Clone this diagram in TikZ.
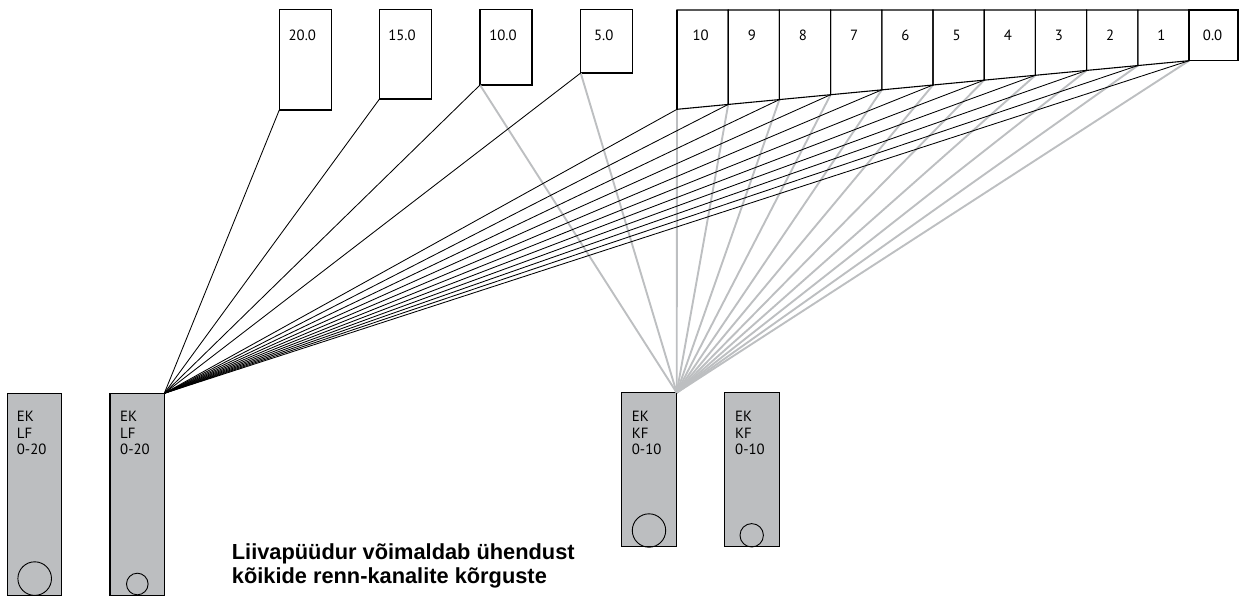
\documentclass[tikz,border=0pt]{standalone}
\usepackage{fontspec}
\setmainfont{PT Sans}
\newfontfamily\capfont{Liberation Sans}
\definecolor{boxgray}{HTML}{BCBEC0}
\definecolor{linegray}{HTML}{BDBFC1}
\begin{document}
\begin{tikzpicture}[x=1pt,y=-1pt,
  box/.style={draw=black, line width=1.1pt, inner sep=0pt, outer sep=0pt, anchor=north west},
  fbox/.style={box, fill=boxgray},
  rowbox/.style={draw=black, line width=1.1pt, line join=miter},
  ring/.style={draw=black, line width=0.9pt, circle, inner sep=0pt, outer sep=0pt},
  lbl/.style={inner sep=0pt, anchor=base, font=\fontsize{14.8}{16.5}\selectfont},
  blbl/.style={inner sep=0pt, anchor=base west, font=\fontsize{14.8}{16.5}\selectfont},
  captext/.style={inner sep=0pt, anchor=base west, font=\capfont\bfseries\fontsize{21.8}{24}\selectfont},
  blk/.style={draw=black, line width=0.85pt},
  gry/.style={draw=linegray, line width=1.9pt},
]
\useasboundingbox (0,0) rectangle (1247,597);

% top single boxes
\node[box, minimum width=52pt, minimum height=100.7pt] (t20) at (279.3,9.3) {};
\node[box, minimum width=52pt, minimum height=89.7pt] (t15) at (379.5,9.3) {};
\node[box, minimum width=52pt, minimum height=75.7pt] (t10) at (480,9.3) {};
\node[box, minimum width=52pt, minimum height=63.7pt] (t5) at (580.7,9.3) {};
\node[lbl] (l20) at (302.3,40) {20.0};
\node[lbl] (l15) at (402,40) {15.0};
\node[lbl] (l10) at (503,40) {10.0};
\node[lbl] (l5) at (603.7,40) {5.0};

% row of boxes with slanted bottom
\foreach \i in {0,...,10} {
  \coordinate (r\i) at ({677+51.2*\i},{109.3-4.86*\i});
  \coordinate (q\i) at ({677+51.2*\i},10);
}
\coordinate (rend) at (1238,60.7);
\coordinate (qend) at (1238,10);

% LF / KF boxes
\node[fbox, minimum width=54pt, minimum height=202.2pt] (lf1) at (7.7,393.3) {};
\node[fbox, minimum width=54.3pt, minimum height=202.2pt] (lf2) at (110,393.3) {};
\node[fbox, minimum width=55pt, minimum height=154pt] (kf1) at (621.7,392.7) {};
\node[fbox, minimum width=55pt, minimum height=154pt] (kf2) at (724.3,392.7) {};

% gray connectors to KF
\draw[gry] (t10.south west) -- (kf1.north east);
\draw[gry] (t5.south west) -- (kf1.north east);
\foreach \i in {0,...,10} { \draw[gry] (r\i) -- (kf1.north east); }

% black connectors to LF
\draw[blk] (t20.south west) -- (lf2.north east);
\draw[blk] (t15.south west) -- (lf2.north east);
\draw[blk] (t10.south west) -- (lf2.north east);
\draw[blk] (t5.south west) -- (lf2.north east);
\foreach \i in {0,...,10} { \draw[blk] (r\i) -- (lf2.north east); }

% row boxes
\foreach \i [evaluate=\i as \j using int(\i+1)] in {0,...,9} {
  \draw[rowbox] (q\i) -- (r\i) -- (r\j) -- (q\j) -- cycle;
}
\draw[rowbox] (q10) -- (r10) -- (rend) -- (qend) -- cycle;
\draw[line width=1.6pt] (q0) -- (r0);
\foreach \t [count=\i from 0] in {10,9,8,7,6,5,4,3,2,1,0.0} {
  \node[lbl] (rl\i) at ({677+51.2*\i+23.6},40) {\t};
}

% circles
\node[ring, minimum size=33.6pt] (c1) at (34.7,578.6) {};
\node[ring, minimum size=21.6pt] (c2) at (137.3,584) {};
\node[ring, minimum size=33.4pt] (c3) at (649,530.5) {};
\node[ring, minimum size=23.4pt] (c4) at (751.7,535.3) {};

% box texts
\node[blbl] (a1) at (16.7,421.7) {EK};
\node[blbl] (a2) at (16.7,438) {LF};
\node[blbl] (a3) at (16.7,454.7) {0-20};
\node[blbl] (b1) at (120,421.7) {EK};
\node[blbl] (b2) at (120,438) {LF};
\node[blbl] (b3) at (120,454.7) {0-20};
\node[blbl] (c1a) at (631.7,421.7) {EK};
\node[blbl] (c1b) at (631.7,438) {KF};
\node[blbl] (c1c) at (631.7,454.7) {0-10};
\node[blbl] (d1) at (735,421.7) {EK};
\node[blbl] (d2) at (735,438) {KF};
\node[blbl] (d3) at (735,454.7) {0-10};

% caption
\node[captext] (cap1) at (231.7,559.3) {Liivapüüdur võimaldab ühendust};
\node[captext] (cap2) at (231.7,583.5) {kõikide renn-kanalite kõrguste};
\end{tikzpicture}
\end{document}
